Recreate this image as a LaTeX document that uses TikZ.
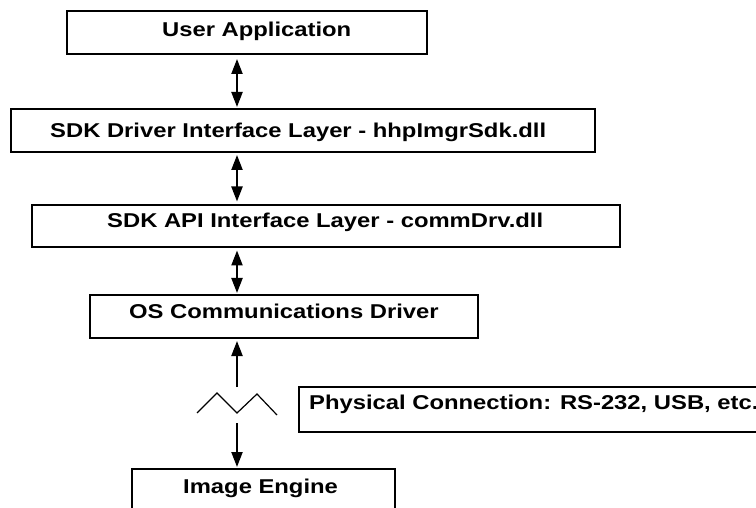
\documentclass[tikz,border=0pt]{standalone}
\usepackage{fontspec}
\usepackage{graphicx}
\setmainfont{Liberation Sans}
\usetikzlibrary{arrows.meta}
% horizontally widened label text
\newcommand\widetext[1]{\scalebox{1.19}[1]{#1}}
\begin{document}
\begin{tikzpicture}[x=1pt,y=-1pt,
  layerbox/.style={draw, line width=2pt, inner sep=0pt},
  lbl/.style={anchor=base west, inner sep=0pt, font=\fontsize{20}{24}\selectfont\bfseries},
  dbl/.style={line width=2.2pt, {Triangle[length=15pt,width=11pt]}-{Triangle[length=15pt,width=11pt]}},
  sgl/.style={line width=2.2pt, -{Triangle[length=15pt,width=11pt]}},
  zig/.style={line width=1.2pt, line join=miter}]
\useasboundingbox (0,0) rectangle (756,508);
\clip (0,0) rectangle (756,508);
\fill[white] (0,0) rectangle (756,508);

% layer boxes
\node[layerbox, minimum width=360pt, minimum height=43pt] (ua)  at (247,32.5)  {};
\node[layerbox, minimum width=584pt, minimum height=43pt] (drv) at (303,130.5) {};
\node[layerbox, minimum width=588pt, minimum height=42pt] (api) at (326,226.5) {};
\node[layerbox, minimum width=388pt, minimum height=43pt] (os)  at (284,316.5) {};
\node[layerbox, minimum width=501pt, minimum height=45pt] (phy) at (549.5,409.5) {};
\node[layerbox, minimum width=263pt, minimum height=51pt] (img) at (263.5,494.5) {};

% labels
\node[lbl] (t1) at (162,37)  {\widetext{User Application}};
\node[lbl] (t2) at (50,138)  {\widetext{SDK Driver Interface Layer - hhpImgrSdk.dll}};
\node[lbl] (t3) at (107,228) {\widetext{SDK API Interface Layer - commDrv.dll}};
\node[lbl] (t4) at (129,318) {\widetext{OS Communications Driver}};
\node[lbl] (t5) at (309,409) {\widetext{Physical Connection: RS-232, USB, etc.}};
\node[lbl] (t6) at (183,493) {\widetext{Image Engine}};

% connectors along the common axis
\coordinate (ax) at (237,0);
\draw[dbl, shorten <=4pt, shorten >=1pt] (ua.south -| ax) -- (drv.north -| ax);
\draw[dbl, shorten <=2pt, shorten >=3pt] (drv.south -| ax) -- (api.north -| ax);
\draw[dbl, shorten <=2pt, shorten >=1pt] (api.south -| ax) -- (os.north -| ax);

\coordinate (up) at (237,387);
\coordinate (dn) at (237,423);
\draw[sgl, shorten >=2pt] (up) -- (os.south -| ax);
\draw[sgl, shorten >=1pt] (dn) -- (img.north -| ax);

% break in the physical link
\draw[zig] (197,413) -- (217,393) -- (237,413) -- (257,394) -- (277,415);
\end{tikzpicture}
\end{document}
